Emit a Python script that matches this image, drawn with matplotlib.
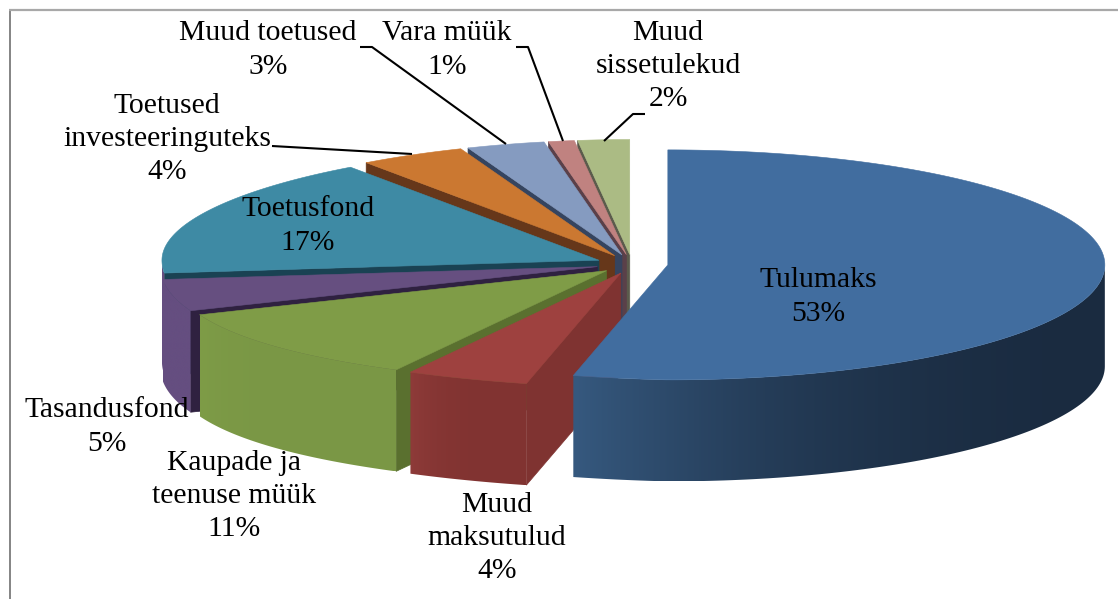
import numpy as np
import matplotlib
matplotlib.use("Agg")
import matplotlib.pyplot as plt
from matplotlib.colors import to_rgb
from matplotlib.patches import Polygon

plt.rcParams['font.family'] = ['Liberation Serif', 'DejaVu Serif']

# Data ------------------------------------------------------------------
categories = ["Tulumaks", "Muud\nmaksutulud", "Kaupade ja\nteenuse müük", "Tasandusfond",
              "Toetusfond", "Toetused\ninvesteeringuteks", "Muud toetused", "Vara müük",
              "Muud\nsissetulekud"]
values = [53, 4, 11, 5, 17, 4, 3, 1, 2]

top_colors = ["#416d9f", "#9e413f", "#7f9c47", "#664f80", "#3e8aa4",
              "#cb7831", "#859bc0", "#c08280", "#abbb84"]
side_colors = ["#2f4d73", "#7f3331", "#5a702f", "#2f2140", "#1a4253",
               "#66371a", "#35445f", "#5a4049", "#5b5b4c"]
wall_near = ["#36597f", "#8e3b39", "#7e9c47", "#654e80", "#654e80",
             "#a8642a", "#6f82a3", "#a06c6a", "#8f9c6e"]
wall_far = ["#1a2b40", "#813331", "#7a9745", "#654e80", "#654e80",
            "#a8642a", "#6f82a3", "#a06c6a", "#8f9c6e"]
label_xy = [(818, 297), (497, 538), (234, 496), (107, 427), (308, 226),
            (167, 139), (268, 50), (447, 50), (668, 66)]
leaders = [[(272, 146), (412, 154)],
           [(360, 47), (372, 47), (506, 144)],
           [(516, 47), (528, 47), (563, 141)],
           [(645, 114), (633, 114), (604, 141)]]

# Layout of the projected pie (pixels) ----------------------------------
CX, CY = 632.0, 264.0
RX, RY = 437.0, 115.0
EXPLODE = 36.0
DEPTH = 101.5
KY = RY / RX


def project(theta):
    """Angle (radians, clockwise from the back) to offsets from a slice apex."""
    u, v = np.sin(theta), -np.cos(theta)
    k = np.where(u < 0,
                 1 + 0.16 * np.clip(v, 0, None) ** 2 - 0.05 * np.clip(-v, 0, None) ** 2,
                 1.0)
    m = np.where((u < 0) & (v > 0), 1 - 0.11 * np.abs(u), 1.0)
    return RX * u * k, RY * v * m


fig = plt.figure(figsize=(11.18, 5.99), dpi=100, facecolor="white")
ax = fig.add_axes([0, 0, 1, 1])
ax.axis("off")

# Frame: left and top rules only
ax.plot([9.5, 9.5], [599, 9], color="#707070", lw=1.2, solid_capstyle="butt")
ax.plot([9, 1118], [9.8, 9.8], color="#a8a8a8", lw=1.6, solid_capstyle="butt")

fractions = np.array(values, dtype=float) / sum(values)
edges = np.concatenate([[0], np.cumsum(fractions)]) * 2 * np.pi

# Back to front: last slice first, the big one on top
for i in range(len(values) - 1, -1, -1):
    a0, a1 = edges[i], edges[i + 1]
    mid = (a0 + a1) / 2
    ax_x = CX + EXPLODE * np.sin(mid)
    ax_y = CY - EXPLODE * KY * np.cos(mid)
    th = np.linspace(a0, a1, 200)
    px, py = project(th)
    rx, ry = ax_x + px, ax_y + py

    # radial faces seen from the viewer
    for end, ang, idx in ((0, a0, 0), (1, a1, -1)):
        visible = (end == 0 and np.sin(ang) < -1e-6) or (end == 1 and np.sin(ang) > 1e-6)
        if visible:
            ax.fill([ax_x, rx[idx], rx[idx], ax_x],
                    [ax_y, ry[idx], ry[idx] + DEPTH, ax_y + DEPTH],
                    color=side_colors[i], lw=0.5, zorder=2)

    # outer wall, near half only, shaded by a horizontal gradient
    near = -np.cos(th) > 0
    if near.sum() > 1:
        wx, wy = rx[near], ry[near]
        wt = (th[near] - th[near][0]) / (th[near][-1] - th[near][0])
        order = np.argsort(wx)
        gx = np.linspace(wx.min(), wx.max(), 400)
        gt = np.interp(gx, wx[order], wt[order]) ** 3.5
        c0, c1 = np.array(to_rgb(wall_far[i])), np.array(to_rgb(wall_near[i]))
        row = (c0[None, :] + (c1 - c0)[None, :] * gt[:, None])[None, :, :]
        im = ax.imshow(row, extent=(wx.min(), wx.max(), wy.max() + DEPTH, wy.min()),
                       aspect="auto", interpolation="bilinear", zorder=2)
        clip = Polygon(np.c_[np.r_[wx, wx[::-1]], np.r_[wy, wy[::-1] + DEPTH]],
                       closed=True, transform=ax.transData)
        im.set_clip_path(clip)

    # top
    ax.fill(np.r_[ax_x, rx], np.r_[ax_y, ry], color=top_colors[i], lw=0.4, zorder=2)

ax.set_xlim(0, 1118)
ax.set_ylim(599, 0)

# Leader lines
for pts in leaders:
    xs, ys = zip(*pts)
    ax.plot(xs, ys, color="black", lw=1.5, zorder=3, solid_capstyle="butt")

# Labels
for name, val, (lx, ly) in zip(categories, values, label_xy):
    ax.text(lx, ly, f"{name}\n{val}%", ha="center", va="center", fontsize=21.3,
            color="black", linespacing=1.36, zorder=4)

fig.savefig("out.png", dpi=100, facecolor="white")
